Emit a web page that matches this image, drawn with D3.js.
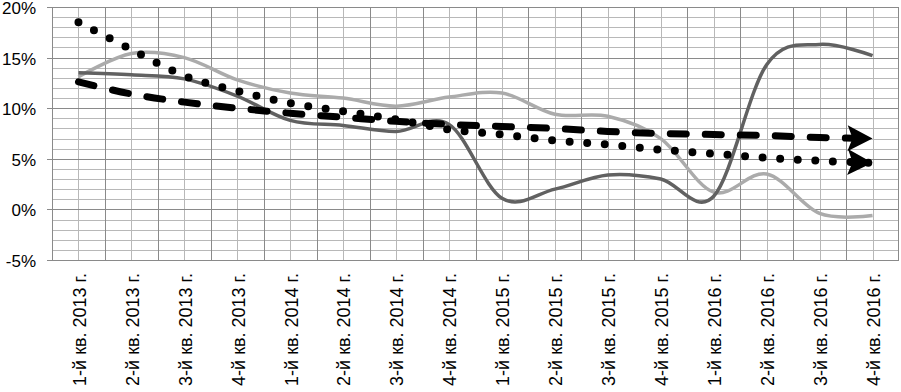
<!DOCTYPE html>
<html>
<head>
<meta charset="utf-8">
<script src="https://cdn.jsdelivr.net/npm/d3@7"></script>
<style>
  body { margin: 0; background: #fff; }
  text { font-family: Arial, "Liberation Sans", sans-serif; fill: #000; }
</style>
</head>
<body>
<svg class="chart"></svg>
<script>
// quarters on the x axis
var quarters = ["1-й кв. 2013 г.", "2-й кв. 2013 г.", "3-й кв. 2013 г.", "4-й кв. 2013 г.",
                "1-й кв. 2014 г.", "2-й кв. 2014 г.", "3-й кв. 2014 г.", "4-й кв. 2014 г.",
                "1-й кв. 2015 г.", "2-й кв. 2015 г.", "3-й кв. 2015 г.", "4-й кв. 2015 г.",
                "1-й кв. 2016 г.", "2-й кв. 2016 г.", "3-й кв. 2016 г.", "4-й кв. 2016 г."];

// percent values
var darkSeries  = [13.5, 13.3, 12.9, 11.2, 8.8, 8.3, 7.7, 8.4, 1.1, 2.0, 3.4, 3.0, 1.3, 14.3, 16.3, 15.2];
var lightSeries = [13.1, 15.4, 15.0, 12.8, 11.5, 11.0, 10.2, 11.1, 11.5, 9.4, 9.2, 7.0, 1.7, 3.5, -0.4, -0.6];
var dottedTrend = [18.5, 15.8, 13.2, 11.7, 10.5, 9.7, 8.9, 7.9, 7.4, 6.8, 6.4, 5.9, 5.5, 5.1, 4.8, 4.6];
var dashedTrend = [12.6, 11.4, 10.6, 10.0, 9.5, 9.1, 8.7, 8.4, 8.2, 8.0, 7.7, 7.5, 7.4, 7.3, 7.1, 7.0];

var yTicks = [-5, 0, 5, 10, 15, 20];

var drawChart = function(w, h)
{
  var svg = d3.select(".chart")
              .attr("width", w)
              .attr("height", h);

  var margins = {top: 7, left: 52, right: 2, bottom: 132};

  var xScale = d3.scaleBand()
                 .domain(quarters)
                 .range([margins.left, w - margins.right])
                 .padding(0);
  var yScale = d3.scaleLinear()
                 .domain([-5, 20])
                 .range([h - margins.bottom, margins.top]);

  var bw = xScale.bandwidth();
  var cx = function(i) { return xScale(quarters[i]) + bw / 2; };
  var snap = function(v) { return Math.round(v) + 0.5; };

  // grid
  var grid = svg.append("g").classed("grid", true);
  var minor = d3.range(-5, 21).filter(function(v) { return v % 5 != 0; });
  grid.selectAll("line.hmin")
      .data(minor).enter().append("line")
      .attr("x1", margins.left).attr("x2", w - margins.right)
      .attr("y1", function(d) { return snap(yScale(d)); })
      .attr("y2", function(d) { return snap(yScale(d)); })
      .attr("stroke", "#b8b8b8");

  grid.selectAll("line.vmid")
      .data(quarters).enter().append("line")
      .attr("x1", function(d) { return snap(xScale(d) + bw / 2); })
      .attr("x2", function(d) { return snap(xScale(d) + bw / 2); })
      .attr("y1", yScale(20)).attr("y2", yScale(-5))
      .attr("stroke", "#b8b8b8");

  var bounds = quarters.map(function(d) { return xScale(d); }).concat([w - margins.right - 1]);
  grid.selectAll("line.vb")
      .data(bounds).enter().append("line")
      .attr("x1", function(d) { return snap(d); })
      .attr("x2", function(d) { return snap(d); })
      .attr("y1", yScale(20)).attr("y2", yScale(-5))
      .attr("stroke", "#8a8a8a");

  grid.selectAll("line.hmaj")
      .data(yTicks).enter().append("line")
      .attr("x1", margins.left - 5).attr("x2", w - margins.right)
      .attr("y1", function(d) { return snap(yScale(d)); })
      .attr("y2", function(d) { return snap(yScale(d)); })
      .attr("stroke", "#8a8a8a");

  // y labels
  svg.append("g").selectAll("text")
     .data(yTicks).enter().append("text")
     .attr("x", 36)
     .attr("y", function(d) { return yScale(d) + 1; })
     .attr("dy", "0.35em")
     .attr("text-anchor", "end")
     .style("font-size", "17px")
     .text(function(d) { return d + "%"; });

  // x labels
  svg.append("g").selectAll("text")
     .data(quarters).enter().append("text")
     .attr("transform", function(d) {
       return "translate(" + (xScale(d) + bw / 2 + 1) + "," + (yScale(-5) + 13) + ") rotate(-90)";
     })
     .attr("dy", "0.35em")
     .attr("text-anchor", "end")
     .style("font-size", "18px")
     .text(function(d) { return d; });

  // arrow marker
  var defs = svg.append("defs");
  defs.append("marker")
      .attr("id", "arrow")
      .attr("markerUnits", "userSpaceOnUse")
      .attr("viewBox", "-1 -14 27 28")
      .attr("markerWidth", 27)
      .attr("markerHeight", 28)
      .attr("refX", 25)
      .attr("refY", 0)
      .attr("orient", "auto")
      .append("path")
      .attr("d", "M0,-13L25,0L0,13L5,0Z")
      .attr("fill", "#000");

  var line = d3.line()
               .x(function(d, i) { return cx(i); })
               .y(function(d) { return yScale(d); })
               .curve(d3.curveCardinal.tension(0));

  var plot = svg.append("g").classed("plot", true);

  plot.append("path")
      .attr("d", line(lightSeries))
      .attr("fill", "none")
      .attr("stroke", "#ababab")
      .attr("stroke-width", 3.5);

  plot.append("path")
      .attr("d", line(darkSeries))
      .attr("fill", "none")
      .attr("stroke", "#616161")
      .attr("stroke-width", 3.5);

  plot.append("path")
      .attr("d", line(dashedTrend))
      .attr("fill", "none")
      .attr("stroke", "#000")
      .attr("stroke-width", 7)
      .attr("stroke-linecap", "round")
      .attr("stroke-dasharray", "16 19")
      .attr("marker-end", "url(#arrow)");

  plot.append("path")
      .attr("d", line(dottedTrend))
      .attr("fill", "none")
      .attr("stroke", "#000")
      .attr("stroke-width", 8)
      .attr("stroke-linecap", "round")
      .attr("stroke-dasharray", "0 17.6")
      .attr("marker-end", "url(#arrow)");
}

drawChart(901, 392);
</script>
</body>
</html>
